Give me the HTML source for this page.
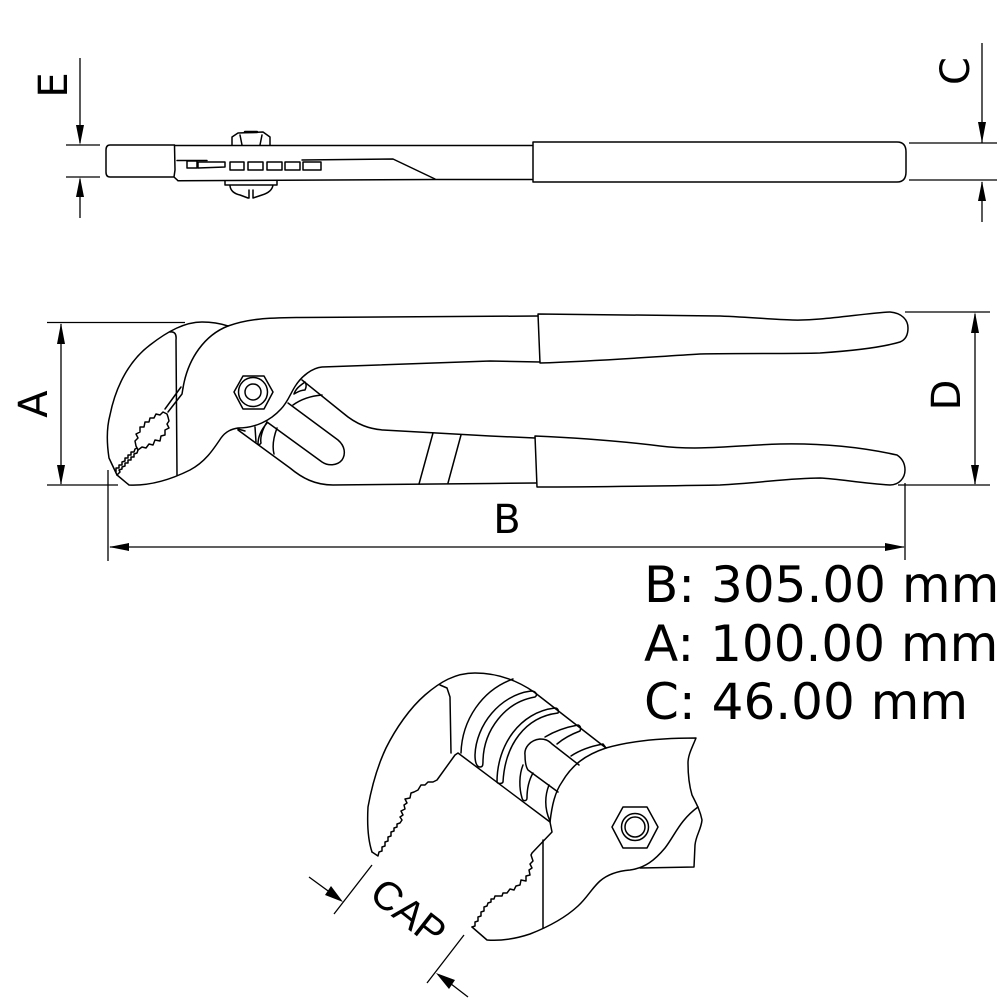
<!DOCTYPE html>
<html>
<head>
<meta charset="utf-8">
<style>
html,body{margin:0;padding:0;background:#fff;width:1000px;height:1000px;overflow:hidden}
svg{display:block}
.l{fill:none;stroke:#000;stroke-width:1.5;stroke-linejoin:round;stroke-linecap:round}
.d{fill:none;stroke:#000;stroke-width:1.3}
.h{fill:#000;stroke:none}
text{font-family:"DejaVu Sans","Liberation Sans",sans-serif;fill:#000}
</style>
</head>
<body>
<svg width="1000" height="1000" viewBox="0 0 1000 1000" xmlns="http://www.w3.org/2000/svg">
<!-- TOP VIEW dims -->
<path class="d" d="M80,58V143M66,145H100M66,177H100M80,179V218M982,43V143M909,143H997M909,180H997M982,182V222"/>
<path class="h" d="M76,125L84,125L80,145ZM76,197L84,197L80,177ZM978,122L986,122L982,143ZM978,201L986,201L982,181Z"/>
<!-- top view body -->
<path class="l" d="M175,145.500H532M178,180.700L435,179.500H532"/>
<path class="l" d="M110,145H174.500L175,170L174,177L178,180.700M110,145Q106,145 106,150V172Q106,177 110,177H174"/>
<path class="l" d="M533,142H897Q906,142 906,152V172Q906,182 897,182H533Z"/>
<path class="l" d="M177,160.500H207M302,160L393,159L435,179"/>
<path class="l" d="M187,161H197V168H187ZM198,162H225V167L198,168ZM230,162H244V170H230ZM248,162H263V170H248ZM267,162H282V170H267ZM285,162H300V170H285ZM303,162H321V170H303Z"/>
<path class="l" d="M232,145V137L238,133L263,132L270,137V145M242,145L240,135M260,145L262,135"/>
<path class="l" d="M245,132H257" style="stroke-width:2.500"/>
<path class="l" d="M225,181V185H277V181M230,186Q231,193 240,195L248,198H249V190M253,190V198L262,195Q272,192 273,185"/>

<!-- SIDE VIEW dims -->
<path class="d" d="M47,322.500H185M47,485H118M61,324V484M905,312H990M898,485H990M975,314V484M905,483V560M108,470V561M110,547H904"/>
<path class="h" d="M57,344L65,344L61,323ZM57,465L65,465L61,485ZM971,333L979,333L975,312ZM971,465L979,465L975,485ZM109,547L129,543L129,551ZM905,547L885,543L885,551Z"/>

<!-- upper jaw outline -->
<path class="l" d="M117,475L109,458C107,445 106,430 110,415C116,385 130,360 150,345C168,331 185,322 202,322C213,322 222,324 228,326"/>
<path class="l" d="M170,332Q177,331 176,340L177,475"/>
<path class="l" d="M228,326C205,335 188,358 183,388"/>
<path class="l" d="M228,326C250,318 270,318 300,317.500L538,316"/>
<path class="l" d="M117,475L129,485C150,486 170,480 190,470C205,462 213,450 221,438C226,431 232,429 238,428C255,428 270,421 281,409C288,402 291,392 296,385C302,376 312,368 322,367L490,361L540,362"/>
<!-- teeth / slot -->
<path class="l" d="M183,388L182,394L168,412M181,387L165,409"/>
<path class="l" d="M136,446L135,441L138,438L136,434L140,432L140,427L144,427L145,422L149,422L150,418L154,418L156,414L160,415L163,412L167,414L168,417L169,421L167,424L169,428L165,430L165,435L161,436L160,441L155,440L153,445L149,444L146,448L142,447L138,450Z"/>
<path class="l" d="M116,472L116,468L119,468L119,465L122,465L122,462L125,461L125,458L128,458L128,455L131,455L131,452L134,452L135,449L137,448M117,475L120,472L119,470L122,469L122,467L125,466L125,463L128,463L128,460L131,460L131,457L134,457L134,454L137,453L138,450"/>
<!-- lower handle -->
<path class="l" d="M302,380L343,413C357,425 370,429 383,430L490,436L535,438"/>
<path class="l" d="M238,430L290,468C302,478 315,485 333,485L490,483.500L536,483"/>
<path class="l" d="M288,403L338,440C345,446 346,454 342,460C337,466 328,466 322,462L267,422"/>
<path class="l" d="M293,405C300,400 310,396 322,395M294,394C296,388 301,385 305,382C307,385 306,388 305,390C300,390 296,393 294,394M255,427L256,442M267,422C262,430 260,438 261,443C260,445 258,445 258,444C258,437 261,430 267,423M277,428C274,436 272,446 274,454M433,433L419,484M461,435L448,483M238,429L245,431"/>
<!-- grips -->
<path class="l" d="M538,314C600,315 660,315 720,316C770,318 790,322 820,319C845,317 870,313 890,312C902,313 908,320 908,328C908,336 905,340 900,342C880,348 850,351 820,353C790,354 740,353 700,354C650,357 600,361 540,363Z"/>
<path class="l" d="M535,436C580,438 620,441 660,446C700,451 740,445 780,444C830,443 870,449 897,455C903,459 905,464 905,470C905,478 899,485 890,485C860,483 840,479 820,478C790,478 760,483 720,485C660,486 600,487 537,487Z"/>
<!-- nut -->
<path class="l" d="M234,392L243,376H264L273,392L264,409H243Z"/>
<circle class="l" cx="253" cy="392" r="14.500"/>
<circle class="l" cx="253" cy="392" r="8"/>

<!-- labels -->
<text font-size="40" text-anchor="middle" transform="translate(67,85) rotate(-90)">E</text>
<text font-size="40" text-anchor="middle" transform="translate(969,71) rotate(-90)">C</text>
<text font-size="40" text-anchor="middle" transform="translate(47,404) rotate(-90)">A</text>
<text font-size="40" text-anchor="middle" transform="translate(960,395) rotate(-90)">D</text>
<text font-size="40" text-anchor="middle" x="507" y="533">B</text>
<text font-size="50" x="644" y="602">B: 305.00 mm</text>
<text font-size="50" x="644" y="661">A: 100.00 mm</text>
<text font-size="50" x="644" y="719">C: 46.00 mm</text>

<!-- DETAIL VIEW -->
<path class="l" d="M372,852C368,840 367,825 368,807C372,785 378,765 386,748C396,728 410,708 425,695C440,682 455,673 475,673C495,673 515,679 534,692L606,748"/>
<path class="l" d="M440,685L447,688L450,697L451,753"/>
<!-- upper teeth -->
<path class="l" d="M372,852L378,856L379,852L382,851L382,847L385,846L385,842L388,841L388,837L391,836L391,832L394,831L394,828L397,827L397,824L400,823L402,820L400,817L403,815L401,811L405,809L404,805L407,803L405,799L410,798L411,793L414,792L418,790L421,785L425,785L428,782L433,782L437,780L455,755L458,753L550,822"/>
<!-- lower teeth -->
<path class="l" d="M472,927L475,926L475,922L478,921L478,917L481,916L481,912L484,911L484,907L487,906L488,903L491,902L491,899L494,899L495,896L497,896L502,896L503,893L507,893L510,889L514,890L516,886L520,885L521,880L526,881L526,876L530,875L529,870L532,868L530,864L533,861L531,855L532,853L552,832L550,822"/>
<path class="l" d="M472,927L487,940C500,941 515,939 530,934C548,927 565,918 578,906C587,898 592,888 600,881C608,874 618,871 630,870C645,868 655,860 665,848C675,835 680,820 698,807"/>
<path class="l" d="M543,840V928"/>
<path class="l" d="M550,822C552,805 555,792 562,782C572,765 585,755 606,748C630,741 660,738 696,738C692,748 688,755 688,763C688,775 689,785 692,795C696,803 700,810 702,820C701,830 696,835 695,845L694,867L640,868"/>
<!-- ribs -->
<path class="l" d="M513,679C482,690 462,720 461,753"/>
<path class="l" d="M531,691C500,695 476,725 475,755C475,765 478,767 480,767C483,767 483,765 483,760C484,730 505,702 535,697C538,695 536,691 531,691Z"/>
<path class="l" d="M555,708C520,712 497,745 497,782C498,784 502,784 503,782C505,745 525,717 558,713C559,711 558,708 555,708Z"/>
<path class="l" d="M545,737C555,731 567,727 578,725C581,726 581,729 580,731C572,734 564,738 557,744"/>
<path class="l" d="M571,756C580,750 592,746 603,744L606,748"/>
<path class="l" d="M523,765C519,775 519,788 522,798C523,802 527,801 527,798C527,788 529,780 533,773"/>
<path class="l" d="M549,785C545,795 544,808 550,821"/>
<path class="l" d="M579,765L552,744C548,740 545,739 540,739C530,740 524,748 525,755C525,762 526,767 528,770L558,792"/>
<!-- detail nut -->
<path class="l" d="M612,827L623,807H647L658,827L647,848H623Z"/>
<circle class="l" cx="635" cy="827" r="13.500"/>
<circle class="l" cx="635" cy="827" r="10"/>

<!-- CAP -->
<path class="d" d="M372,865L334,914M464,935L427,983M309,877L335,896M468,997L442,977"/>
<path class="h" d="M343,902L325,895L331,886ZM436,973L455,980L449,989Z"/>
<text font-size="40" text-anchor="middle" transform="translate(400,923) rotate(38)" style="font-family:'Liberation Sans',sans-serif">CAP</text>
</svg>
</body>
</html>
